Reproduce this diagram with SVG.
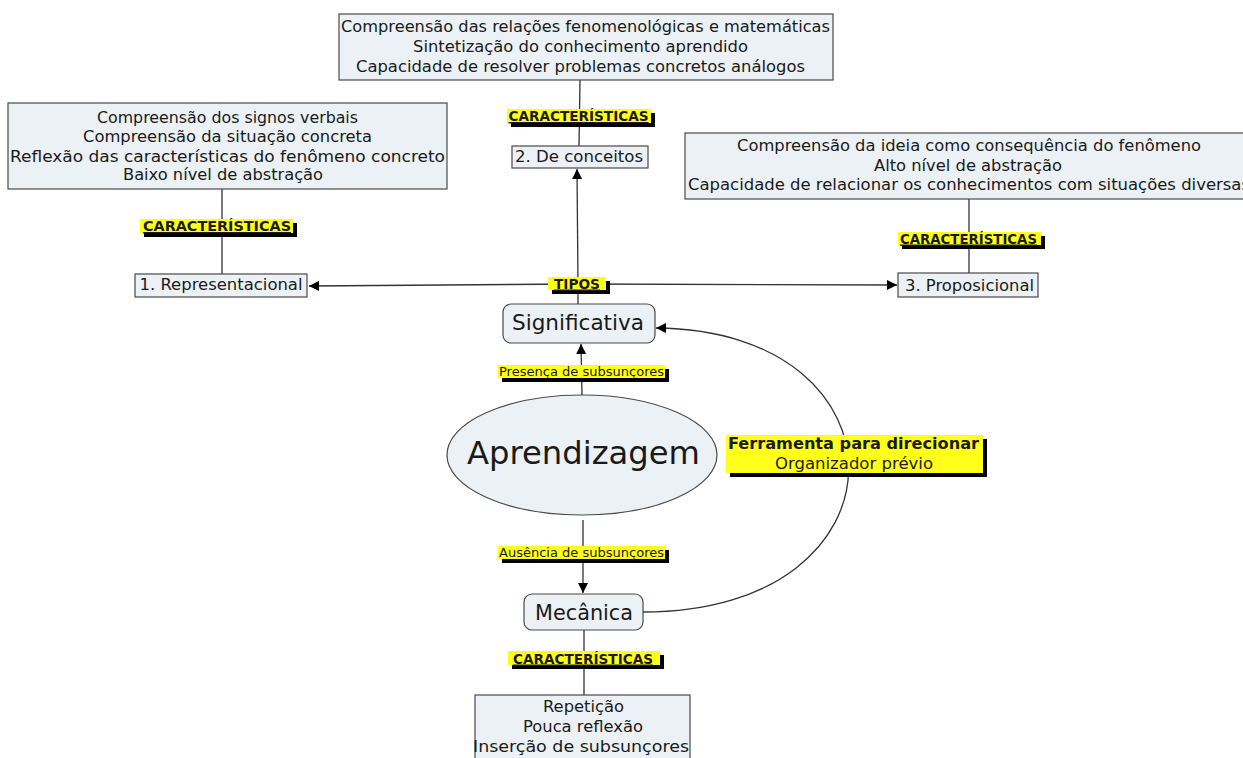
<svg xmlns="http://www.w3.org/2000/svg" width="1243" height="758" viewBox="0 0 1243 758">
  <style>
    .box { fill: #ebf1f4; stroke: #4a4a4a; stroke-width: 1.2; }
    .txt { font-family: "DejaVu Sans", Verdana, sans-serif; font-size: 16px; fill: #1a1a1a; text-anchor: middle; }
    .big { font-size: 22px; }
    .huge { font-size: 32px; }
    .lbl { font-family: "DejaVu Sans", Verdana, sans-serif; font-size: 14px; font-weight: bold; fill: #1a1a1a; text-anchor: middle; text-decoration: underline; }
    .lbs { font-family: "DejaVu Sans", Verdana, sans-serif; font-size: 13px; fill: #1a1a1a; text-anchor: middle; }
    .hl { fill: #ffff1a; }
    .sh { fill: #000; }
    .link { fill: none; stroke: #333; stroke-width: 1.3; }
  </style>
  <defs>
    <marker id="arrow" markerUnits="userSpaceOnUse" markerWidth="11" markerHeight="11" refX="10" refY="5" orient="auto">
      <path d="M0,0 L10,5 L0,10 z" fill="#000"/>
    </marker>
  </defs>
  <rect width="1243" height="758" fill="#fff"/>

  <!-- connectors -->
  <g id="connectors">
    <path class="link" d="M222,189 L222,274"/>
    <path class="link" d="M580,80 L579,146"/>
    <path class="link" d="M969,199 L969,273"/>
    <path class="link" d="M578,304 L578,284"/>
    <path class="link" d="M578,284 L309,286" marker-end="url(#arrow)"/>
    <path class="link" d="M578,284 L897,285" marker-end="url(#arrow)"/>
    <path class="link" d="M578,284 L577,169" marker-end="url(#arrow)"/>
    <path class="link" d="M582,395 L581,344" marker-end="url(#arrow)"/>
    <path class="link" d="M583,520 L583,593" marker-end="url(#arrow)"/>
    <path class="link" d="M584,630 L584,695"/>
    <path class="link" d="M643,612 C915,612 915,330 656,328" marker-end="url(#arrow)"/>
  </g>

  <!-- characteristic lists -->
  <g id="top-list">
    <rect class="box" x="339" y="14" width="494" height="66"/>
    <text class="txt" x="585.5" y="32" textLength="489" lengthAdjust="spacingAndGlyphs">Compreensão das relações fenomenológicas e matemáticas</text>
    <text class="txt" x="580.5" y="52" textLength="335" lengthAdjust="spacingAndGlyphs">Sintetização do conhecimento aprendido</text>
    <text class="txt" x="580.5" y="72" textLength="449" lengthAdjust="spacingAndGlyphs">Capacidade de resolver problemas concretos análogos</text>
  </g>
  <g id="left-list">
    <rect class="box" x="8" y="103" width="439" height="86"/>
    <text class="txt" x="227.5" y="123" textLength="261" lengthAdjust="spacingAndGlyphs">Compreensão dos signos verbais</text>
    <text class="txt" x="227.5" y="142" textLength="289" lengthAdjust="spacingAndGlyphs">Compreensão da situação concreta</text>
    <text class="txt" x="227.5" y="161.5" textLength="435" lengthAdjust="spacingAndGlyphs">Reflexão das características do fenômeno concreto</text>
    <text class="txt" x="223" y="180" textLength="200" lengthAdjust="spacingAndGlyphs">Baixo nível de abstração</text>
  </g>
  <g id="right-list">
    <rect class="box" x="685" y="133" width="580" height="66"/>
    <text class="txt" x="969" y="151" textLength="464" lengthAdjust="spacingAndGlyphs">Compreensão da ideia como consequência do fenômeno</text>
    <text class="txt" x="968" y="170.5" textLength="188" lengthAdjust="spacingAndGlyphs">Alto nível de abstração</text>
    <text class="txt" x="688" y="190" style="text-anchor:start" textLength="562" lengthAdjust="spacingAndGlyphs">Capacidade de relacionar os conhecimentos com situações diversas</text>
  </g>
  <g id="bottom-list">
    <rect class="box" x="475" y="695" width="215" height="80"/>
    <text class="txt" x="583.5" y="712" textLength="81" lengthAdjust="spacingAndGlyphs">Repetição</text>
    <text class="txt" x="583" y="732" textLength="120" lengthAdjust="spacingAndGlyphs">Pouca reflexão</text>
    <text class="txt" x="581" y="752" textLength="216" lengthAdjust="spacingAndGlyphs">Inserção de subsunçores</text>
  </g>

  <!-- type nodes -->
  <g id="representacional">
    <rect class="box" x="135" y="274" width="172" height="23"/>
    <text class="txt" x="221" y="290" textLength="163" lengthAdjust="spacingAndGlyphs">1. Representacional</text>
  </g>
  <g id="conceitos">
    <rect class="box" x="512" y="146" width="136" height="22"/>
    <text class="txt" x="579" y="162" textLength="128" lengthAdjust="spacingAndGlyphs">2. De conceitos</text>
  </g>
  <g id="proposicional">
    <rect class="box" x="898" y="273" width="140" height="24"/>
    <text class="txt" x="969.5" y="291" textLength="129" lengthAdjust="spacingAndGlyphs">3. Proposicional</text>
  </g>

  <!-- main nodes -->
  <g id="significativa">
    <rect class="box" x="503" y="304" width="152" height="39" rx="8"/>
    <text class="txt big" x="578" y="330" textLength="132" lengthAdjust="spacingAndGlyphs">Significativa</text>
  </g>
  <g id="aprendizagem">
    <ellipse class="box" cx="582" cy="455" rx="135" ry="60"/>
    <text class="txt huge" x="583.5" y="464" textLength="233" lengthAdjust="spacingAndGlyphs">Aprendizagem</text>
  </g>
  <g id="mecanica">
    <rect class="box" x="524" y="594" width="119" height="36" rx="8"/>
    <text class="txt big" x="584" y="620" textLength="98" lengthAdjust="spacingAndGlyphs">Mecânica</text>
  </g>

  <!-- link labels -->
  <g id="label-caract-1">
    <rect class="sh" x="144" y="223" width="153" height="14"/>
    <rect class="hl" x="140" y="219" width="153" height="14"/>
    <text class="lbl" x="217" y="231" textLength="148" lengthAdjust="spacingAndGlyphs">CARACTERÍSTICAS</text>
  </g>
  <g id="label-caract-2">
    <rect class="sh" x="511" y="113" width="144" height="14"/>
    <rect class="hl" x="507" y="109" width="144" height="14"/>
    <text class="lbl" x="578.5" y="121" textLength="140" lengthAdjust="spacingAndGlyphs">CARACTERÍSTICAS</text>
  </g>
  <g id="label-caract-3">
    <rect class="sh" x="902" y="236" width="143" height="13"/>
    <rect class="hl" x="898" y="232" width="143" height="13"/>
    <text class="lbl" x="968.5" y="243.5" textLength="137" lengthAdjust="spacingAndGlyphs">CARACTERÍSTICAS</text>
  </g>
  <g id="label-caract-4">
    <rect class="sh" x="512" y="655" width="152" height="14"/>
    <rect class="hl" x="508" y="651" width="152" height="14"/>
    <text class="lbl" x="583" y="663.5" textLength="140" lengthAdjust="spacingAndGlyphs">CARACTERÍSTICAS</text>
  </g>
  <g id="label-tipos">
    <rect class="sh" x="552" y="281" width="58" height="13"/>
    <rect class="hl" x="548" y="277" width="58" height="13"/>
    <text class="lbl" x="577" y="288.5" textLength="46" lengthAdjust="spacingAndGlyphs">TIPOS</text>
  </g>
  <g id="label-presenca">
    <rect class="sh" x="502" y="369" width="167" height="13"/>
    <rect class="hl" x="498" y="365" width="167" height="13"/>
    <text class="lbs" x="581.5" y="376" textLength="165" lengthAdjust="spacingAndGlyphs">Presença de subsunçores</text>
  </g>
  <g id="label-ausencia">
    <rect class="sh" x="502" y="550" width="167" height="13"/>
    <rect class="hl" x="498" y="546" width="167" height="13"/>
    <text class="lbs" x="581.5" y="557" textLength="165" lengthAdjust="spacingAndGlyphs">Ausência de subsunçores</text>
  </g>
  <g id="label-ferramenta">
    <rect class="sh" x="730" y="439" width="257" height="38"/>
    <rect class="hl" x="726" y="435" width="257" height="38"/>
    <text class="txt" x="853.5" y="448.5" font-weight="bold" textLength="251" lengthAdjust="spacingAndGlyphs">Ferramenta para direcionar</text>
    <text class="txt" x="854" y="468.5" textLength="158" lengthAdjust="spacingAndGlyphs">Organizador prévio</text>
  </g>
</svg>
